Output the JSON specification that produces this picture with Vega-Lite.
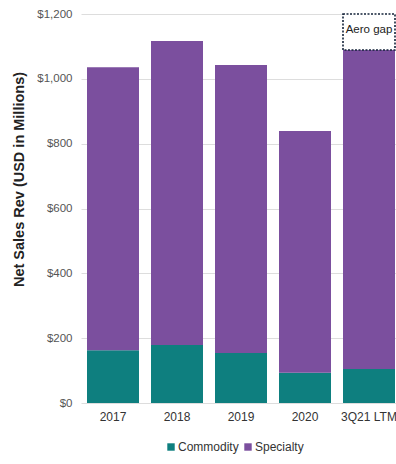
{
  "$schema": "https://vega.github.io/schema/vega-lite/v6.json",
  "autosize": {"type": "none"},
  "width": 315,
  "height": 389,
  "padding": {"left": 81, "top": 14, "right": 0, "bottom": 61},
  "background": "white",
  "config": {
    "font": "Liberation Sans",
    "view": {"stroke": null}
  },
  "datasets": {
    "sales": [
      {"year": "2017", "segment": "Commodity", "value": 163},
      {"year": "2017", "segment": "Specialty", "value": 873},
      {"year": "2018", "segment": "Commodity", "value": 179},
      {"year": "2018", "segment": "Specialty", "value": 938},
      {"year": "2019", "segment": "Commodity", "value": 154},
      {"year": "2019", "segment": "Specialty", "value": 889},
      {"year": "2020", "segment": "Commodity", "value": 93},
      {"year": "2020", "segment": "Specialty", "value": 746},
      {"year": "3Q21 LTM", "segment": "Commodity", "value": 105},
      {"year": "3Q21 LTM", "segment": "Specialty", "value": 984}
    ],
    "gap": [
      {"year": "3Q21 LTM", "low": 1089, "high": 1200, "mid": 1150, "label": "Aero gap"}
    ]
  },
  "encoding": {
    "x": {
      "field": "year",
      "type": "nominal",
      "sort": ["2017", "2018", "2019", "2020", "3Q21 LTM"],
      "scale": {"range": [0, 320], "paddingInner": 0.1875, "paddingOuter": 0.09375},
      "axis": {
        "title": null,
        "labelAngle": 0,
        "domain": false,
        "ticks": false,
        "labelPadding": 8,
        "labelFontSize": 12,
        "labelColor": "#333333"
      }
    }
  },
  "layer": [
    {
      "data": {"name": "sales"},
      "mark": {"type": "bar"},
      "encoding": {
        "y": {
          "field": "value",
          "type": "quantitative",
          "stack": "zero",
          "scale": {"domain": [0, 1200], "nice": false},
          "axis": {
            "values": [0, 200, 400, 600, 800, 1000, 1200],
            "format": "$,.0f",
            "title": "Net Sales Rev (USD in Millions)",
            "titleFontSize": 14.5,
            "titleFontWeight": "bold",
            "titleColor": "#222222",
            "titleX": -62,
            "titleY": 165,
            "titleAngle": -90,
            "titleAlign": "center",
            "titleBaseline": "middle",
            "domain": false,
            "ticks": false,
            "labelPadding": 9,
            "labelFontSize": 11.5,
            "labelColor": "#555555",
            "gridColor": "#dddddd",
            "gridWidth": 1
          }
        },
        "order": {"field": "segment", "sort": "ascending"},
        "color": {
          "field": "segment",
          "type": "nominal",
          "scale": {"domain": ["Commodity", "Specialty"], "range": ["#0e7f7f", "#7b4f9e"]},
          "legend": {
            "title": null,
            "orient": "none",
            "direction": "horizontal",
            "legendX": 84,
            "legendY": 427,
            "symbolType": "square",
            "symbolSize": 55,
            "symbolStrokeWidth": 0,
            "labelFontSize": 12,
            "labelColor": "#333333",
            "labelOffset": 1,
            "columnPadding": 3
          }
        }
      }
    },
    {
      "data": {"name": "gap"},
      "mark": {"type": "bar", "fill": "white", "stroke": "#14233a", "strokeWidth": 1.6, "strokeDash": [2, 1.5]},
      "encoding": {
        "y": {"field": "low", "type": "quantitative"},
        "y2": {"field": "high"}
      }
    },
    {
      "data": {"name": "gap"},
      "mark": {"type": "text", "fontSize": 11.5, "color": "#222222", "baseline": "middle"},
      "encoding": {
        "y": {"field": "mid", "type": "quantitative"},
        "text": {"field": "label"}
      }
    }
  ]
}
